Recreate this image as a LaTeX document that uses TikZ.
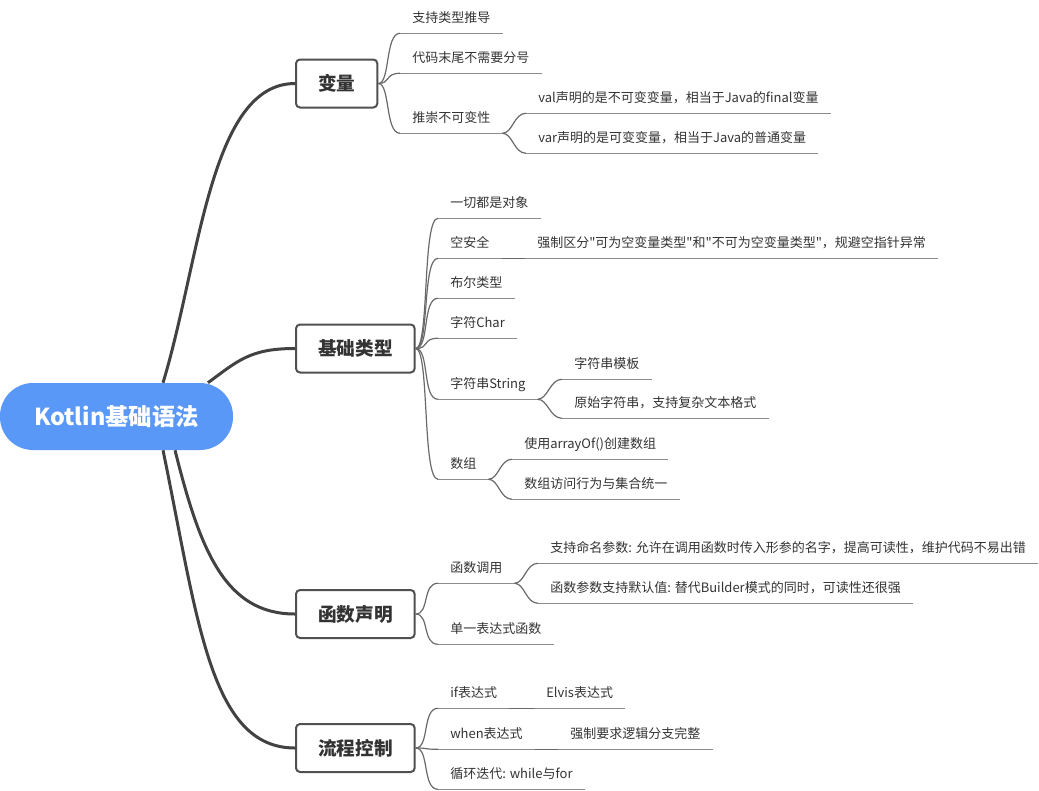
\documentclass[tikz,border=0pt]{standalone}
\usepackage{fontspec}
\setmainfont{Noto Sans CJK SC}
\newfontfamily\plainfont{Noto Sans CJK SC}
\usetikzlibrary{positioning}
\definecolor{rootblue}{RGB}{90,152,248}
\definecolor{trunkgray}{RGB}{66,66,66}
\definecolor{boxgray}{RGB}{80,80,80}
\definecolor{twiggray}{RGB}{105,105,105}
\definecolor{linegray}{RGB}{140,140,140}
\definecolor{textgray}{RGB}{51,51,51}
\newcommand{\dq}{{\plainfont\symbol{34}}}

\begin{document}
\begin{tikzpicture}[
    x=0.75pt, y=-0.75pt,
    every node/.style={text=textgray},
    root/.style={fill=rootblue, rounded corners=24.75pt, minimum width=174.75pt, minimum height=50.25pt, text=white, font=\fontsize{17.5pt}{19pt}\selectfont\bfseries},
    topic/.style={draw=boxgray, line width=1.5pt, rounded corners=3pt, fill=white, anchor=west, minimum height=36pt, inner xsep=16.5pt, font=\fontsize{14pt}{16pt}\selectfont\bfseries},
    leaf/.style={anchor=west, inner xsep=9pt, inner ysep=0pt, minimum height=22.5pt, text height=0.85em, text depth=0.15em, font=\fontsize{9.75pt}{12pt}\selectfont},
    trunk/.style={draw=trunkgray, line width=2.25pt},
    twig/.style={draw=twiggray, line width=0.9pt},
    uline/.style={draw=linegray, line width=0.9pt}
]
\useasboundingbox (0,0) rectangle (1039,790);

\node[root] (root) at (116.5,416.5) {Kotlin基础语法};

\node[topic] (v1) at (295,83.5) {变量};
\node[topic] (v2) at (295,348.5) {基础类型};
\node[topic] (v3) at (295,614) {函数声明};
\node[topic] (v4) at (295,748) {流程控制};

\node[leaf] (a1) at (400,18) {支持类型推导};
\node[leaf] (a2) at (400,58) {代码末尾不需要分号};
\node[leaf] (a3) at (400,118) {推崇不可变性};
\node[leaf] (a31) at (526,98) {val声明的是不可变变量，相当于Java的final变量};
\node[leaf] (a32) at (526,138) {var声明的是可变变量，相当于Java的普通变量};

\node[leaf] (b1) at (438,203) {一切都是对象};
\node[leaf] (b2) at (438,243) {空安全};
\node[leaf] (b21) at (525,243) {强制区分\dq 可为空变量类型\dq 和\dq 不可为空变量类型\dq ，规避空指针异常};
\node[leaf] (b3) at (438,283) {布尔类型};
\node[leaf] (b4) at (438,323) {字符Char};
\node[leaf] (b5) at (438,384) {字符串String};
\node[leaf] (b51) at (562,364) {字符串模板};
\node[leaf] (b52) at (562,403) {原始字符串，支持复杂文本格式};
\node[leaf] (b6) at (438,464) {数组};
\node[leaf] (b61) at (512,444) {使用arrayOf()创建数组};
\node[leaf] (b62) at (512,484) {数组访问行为与集合统一};

\node[leaf] (c1) at (438,568) {函数调用};
\node[leaf] (c11) at (538,548) {支持命名参数: 允许在调用函数时传入形参的名字，提高可读性，维护代码不易出错};
\node[leaf] (c12) at (538,588) {函数参数支持默认值: 替代Builder模式的同时，可读性还很强};
\node[leaf] (c2) at (438,629) {单一表达式函数};

\node[leaf] (d1) at (438,693) {if表达式};
\node[leaf] (d11) at (534,693) {Elvis表达式};
\node[leaf] (d2) at (438,734) {when表达式};
\node[leaf] (d21) at (558,734) {强制要求逻辑分支完整};
\node[leaf] (d3) at (438,774) {循环迭代: while与for};

\foreach \n in {a1,a2,a3,a31,a32,b1,b2,b21,b3,b4,b5,b51,b52,b6,b61,b62,c1,c11,c12,c2,d1,d11,d2,d21,d3}
    \draw[uline] (\n.south west) -- (\n.south east);

\draw[trunk] ([xshift=34.9pt]root.north) .. controls +(37,-122) and +(-85,0) .. (v1.west);
\draw[trunk] ([xshift=68.6pt]root.north) .. controls +(30,-22) and +(-45,0) .. (v2.west);
\draw[trunk] ([xshift=43.9pt]root.south) .. controls +(25,100) and +(-70,0) .. (v3.west);
\draw[trunk] ([xshift=34.9pt]root.south) .. controls +(35,170) and +(-85,0) .. (v4.west);

\foreach \n in {a1,a2,a3}
    \draw[twig] (v1.east) .. controls +(12,0) and +(-15,0) .. (\n.south west);
\foreach \n in {b1,b2,b3,b4,b5,b6}
    \draw[twig] (v2.east) .. controls +(14,0) and +(-16,0) .. (\n.south west);
\foreach \n in {c1,c2}
    \draw[twig] (v3.east) .. controls +(14,0) and +(-16,0) .. (\n.south west);
\foreach \n in {d1,d2,d3}
    \draw[twig] (v4.east) .. controls +(14,0) and +(-16,0) .. (\n.south west);

\foreach \n in {a31,a32}
    \draw[twig] (a3.south east) .. controls +(10,0) and +(-12,0) .. (\n.south west);
\foreach \n in {b51,b52}
    \draw[twig] (b5.south east) .. controls +(10,0) and +(-12,0) .. (\n.south west);
\foreach \n in {b61,b62}
    \draw[twig] (b6.south east) .. controls +(10,0) and +(-12,0) .. (\n.south west);
\foreach \n in {c11,c12}
    \draw[twig] (c1.south east) .. controls +(10,0) and +(-12,0) .. (\n.south west);
\draw[twig] (b2.south east) -- (b21.south west);
\draw[twig] (d1.south east) -- (d11.south west);
\draw[twig] (d2.south east) -- (d21.south west);
\end{tikzpicture}
\end{document}
